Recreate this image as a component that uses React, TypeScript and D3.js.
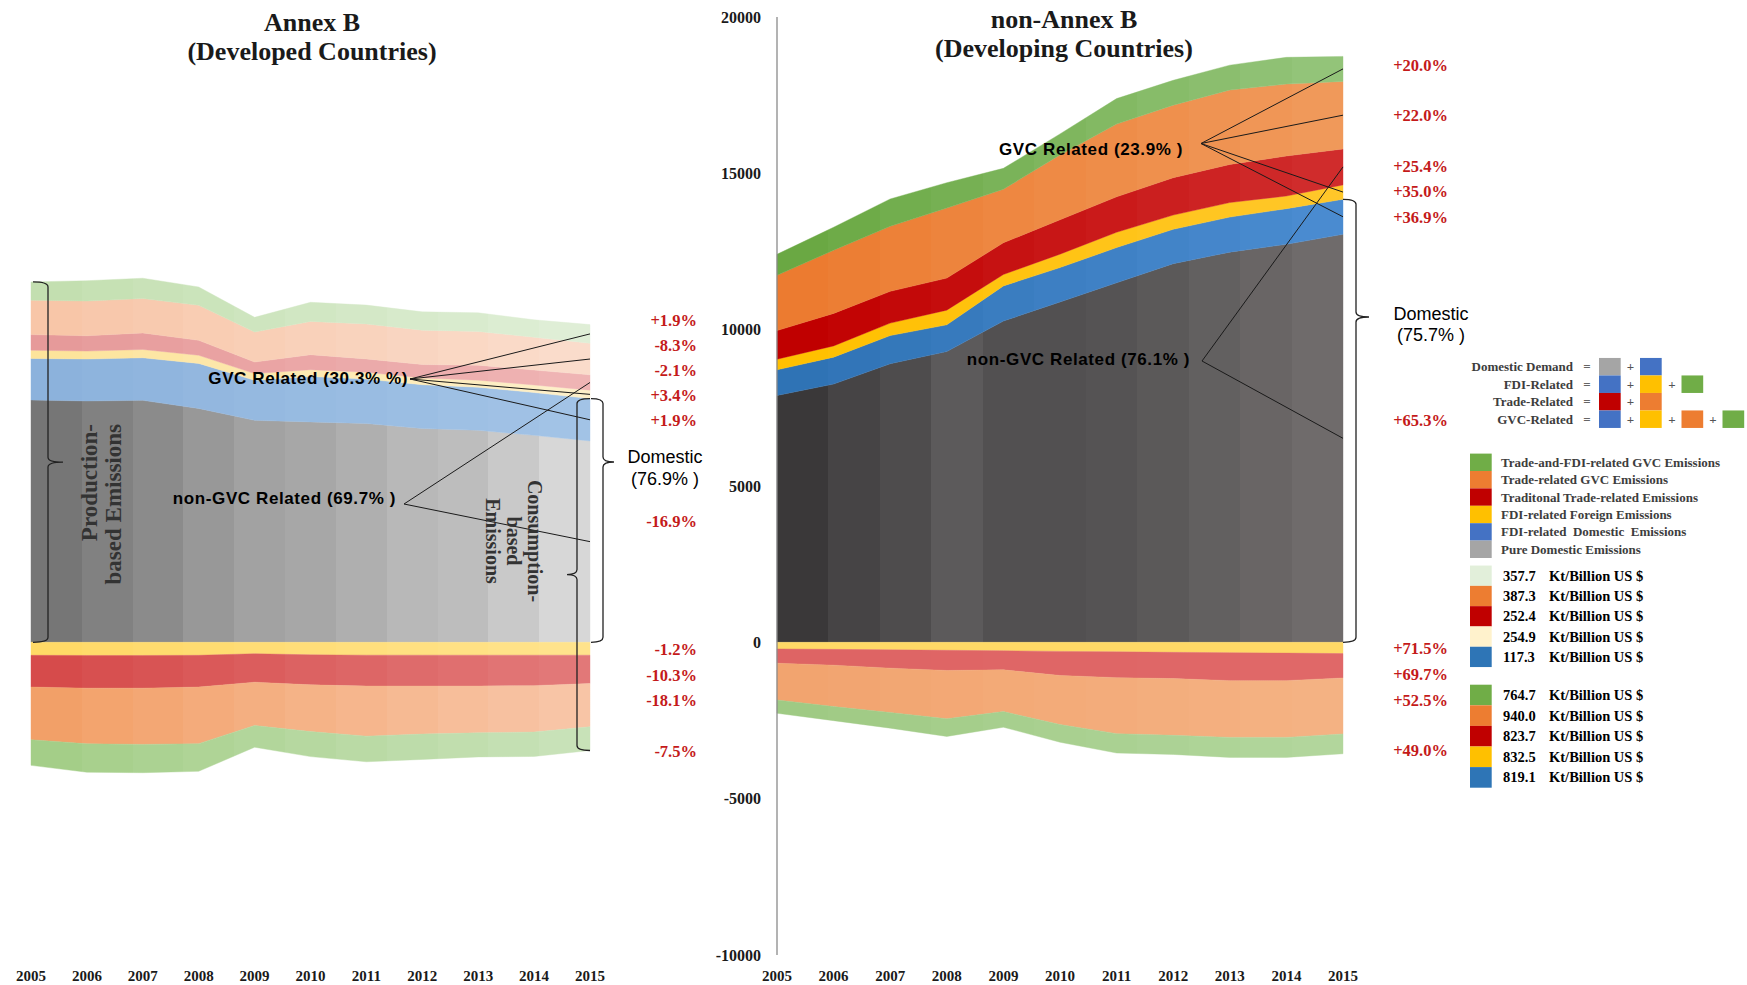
import * as d3 from 'd3'

// ── Data (Kt CO2) ─────────────────────────────────────────────────────────────
const years = [2005, 2006, 2007, 2008, 2009, 2010, 2011, 2012, 2013, 2014, 2015]

const layerKeys = ['pure', 'fdiDom', 'fdiFor', 'trade', 'tradeGvc', 'bothGvc']
const negKeys = ['fdiFor', 'trade', 'tradeGvc', 'bothGvc']

// Annex B, production side (above zero)
const annexPure = [7750, 7720, 7740, 7480, 7100, 7050, 7000, 6840, 6780, 6620, 6440]
const annexFdiDom = [1330, 1340, 1360, 1440, 1280, 1450, 1420, 1400, 1380, 1370, 1355]
const annexFdiFor = [262, 255, 265, 260, 215, 220, 215, 215, 225, 240, 271]
const annexTrade = [500, 490, 530, 480, 370, 480, 430, 430, 480, 480, 490]
const annexTradeGvc = [1100, 1110, 1100, 1120, 960, 1065, 1120, 1100, 1080, 1050, 1010]
const annexBothGvc = [585, 650, 650, 585, 470, 610, 600, 585, 595, 555, 596]
// Annex B, below zero
const annexNegFdiFor = [415, 420, 420, 415, 365, 400, 410, 410, 410, 410, 410]
const annexNegTrade = [1015, 1045, 1045, 1015, 910, 960, 990, 990, 990, 975, 910]
const annexNegTradeGvc = [1685, 1780, 1800, 1810, 1385, 1495, 1600, 1535, 1495, 1485, 1380]
const annexNegBothGvc = [820, 910, 905, 885, 695, 800, 820, 810, 770, 780, 760]

// non-Annex B, production side (above zero)
const nonPure = [7895, 8260, 8910, 9300, 10275, 10885, 11500, 12110, 12480, 12730, 13050]
const nonFdiDom = [820, 860, 900, 855, 1125, 1100, 1125, 1100, 1120, 1140, 1120]
const nonFdiFor = [340, 360, 400, 470, 365, 430, 490, 455, 465, 405, 460]
const nonTrade = [915, 1040, 1015, 1025, 1015, 1100, 1135, 1195, 1220, 1280, 1150]
const nonTradeGvc = [1770, 2020, 2080, 2240, 1710, 2075, 2325, 2320, 2380, 2300, 2160]
const nonBothGvc = [670, 735, 875, 810, 670, 670, 815, 795, 795, 855, 800]
// non-Annex B, below zero
const nonNegFdiFor = [210, 225, 240, 255, 270, 290, 305, 320, 330, 345, 360]
const nonNegTrade = [458, 505, 585, 645, 610, 770, 825, 840, 895, 880, 780]
const nonNegTradeGvc = [1175, 1325, 1420, 1545, 1335, 1570, 1790, 1815, 1815, 1815, 1790]
const nonNegBothGvc = [425, 450, 500, 565, 500, 565, 620, 610, 640, 640, 633]

const annexPct = ['+1.9%', '-8.3%', '-2.1%', '+3.4%', '+1.9%', '-16.9%', '-1.2%', '-10.3%', '-18.1%', '-7.5%']
const nonPct = ['+20.0%', '+22.0%', '+25.4%', '+35.0%', '+36.9%', '+65.3%', '+71.5%', '+69.7%', '+52.5%', '+49.0%']

const legendLabels = [
  'Trade-and-FDI-related GVC Emissions',
  'Trade-related GVC Emissions',
  'Traditonal Trade-related Emissions',
  'FDI-related Foreign Emissions',
  'FDI-related  Domestic  Emissions',
  'Pure Domestic Emissions',
]
const legendKeys = ['bothGvc', 'tradeGvc', 'trade', 'fdiFor', 'fdiDom', 'pure']

const formulaLabels = ['Domestic Demand', 'FDI-Related', 'Trade-Related', 'GVC-Related']
const formulaParts = [
  ['pure', 'fdiDom'],
  ['fdiDom', 'fdiFor', 'bothGvc'],
  ['trade', 'tradeGvc'],
  ['fdiDom', 'fdiFor', 'tradeGvc', 'bothGvc'],
]

const intensityAnnex = [357.7, 387.3, 252.4, 254.9, 117.3]
const intensityNon = [764.7, 940.0, 823.7, 832.5, 819.1]

// ── Styles ────────────────────────────────────────────────────────────────────
const W = 1747
const H = 985
const SERIF = "'Liberation Serif', 'Times New Roman', serif"
const SANS = "'Liberation Sans', Arial, sans-serif"
const PCT_RED = '#c41a1a'
const INK = '#1a1a1a'

const KEY_COLOR: Record<string, string> = {
  pure: '#a5a5a5', fdiDom: '#4472c4', fdiFor: '#ffc000',
  trade: '#c00000', tradeGvc: '#ed7d31', bothGvc: '#70ad47',
}
const annexIntensityColors = ['#e2efda', '#ed7d31', '#c00000', '#fff2cc', '#2e75b6']
const nonIntensityColors = ['#70ad47', '#ed7d31', '#c00000', '#ffc000', '#2e75b6']

// 11 vertical shade strips per layer (start → end colour, or an explicit list)
const annexPosShades: Record<string, string[]> = {
  pure: ['#767676', '#818181', '#8b8b8b', '#989898', '#a2a2a2', '#a7a7a7', '#afafaf', '#b8b8b8', '#bdbdbd', '#c9c9c9', '#d7d7d7'],
  fdiDom: ['#8cb2dc', '#a2c3e6'],
  fdiFor: ['#fde49b', '#fdefc8'],
  trade: ['#e69a9a', '#efb4b4'],
  tradeGvc: ['#f8c6a8', '#fadccb'],
  bothGvc: ['#c3dfb0', '#dfeed6'],
}
const annexNegShades: Record<string, string[]> = {
  fdiFor: ['#ffd966', '#ffe38c'],
  trade: ['#d64b4b', '#e27878'],
  tradeGvc: ['#f2a068', '#f8c5a6'],
  bothGvc: ['#a4ce88', '#c8e2b8'],
}
const nonPosShades: Record<string, string[]> = {
  pure: ['#3a3839', '#464445', '#4e4c4d', '#5c5a5b', '#525051', '#525051', '#555354', '#5b5959', '#626060', '#696565', '#6f6b6b'],
  fdiDom: ['#2f73b5', '#4a8bd0'],
  fdiFor: ['#ffc000', '#ffc729'],
  trade: ['#c00000', '#d02c2c'],
  tradeGvc: ['#ec7b30', '#f0995a'],
  bothGvc: ['#6aa843', '#93c479'],
}
const nonNegShades: Record<string, string[]> = {
  fdiFor: ['#ffd966', '#ffd966'],
  trade: ['#de6464', '#e06868'],
  tradeGvc: ['#f2a46f', '#f4b283'],
  bothGvc: ['#9fca84', '#b2d69c'],
}

const N_STRIPS = 11

function strips(c: string[]) {
  if (c.length === N_STRIPS) return c
  const interp = d3.interpolateRgb(c[0], c[1])
  return d3.range(N_STRIPS).map(i => interp(i / (N_STRIPS - 1)))
}

// ── Scales ────────────────────────────────────────────────────────────────────
const y = d3.scaleLinear([-10000, 20000], [955, 17])
const annexX = d3.scaleLinear([2005, 2015], [31, 590])
const nonX = d3.scaleLinear([2005, 2015], [777, 1343])

type Series = d3.Series<Record<string, number>, string>

function buildStack(keys: string[], cols: number[][]) {
  const rows = years.map((yr, i) => {
    const r: Record<string, number> = { year: yr }
    keys.forEach((k, j) => { r[k] = cols[j][i] })
    return r
  })
  return d3.stack<Record<string, number>>().keys(keys)(rows)
}

function brace(x: number, y0: number, y1: number, ym: number, hook: number, tick: number, r = 5) {
  return `M${x + hook},${y0} Q${x},${y0} ${x},${y0 + r} L${x},${ym - r} Q${x},${ym} ${x + tick},${ym} ` +
    `Q${x},${ym} ${x},${ym + r} L${x},${y1 - r} Q${x},${y1} ${x + hook},${y1}`
}

function PanelAreas({ id, x, pos, neg, posShades, negShades }: {
  id: string
  x: d3.ScaleLinear<number, number>
  pos: Series[]
  neg: Series[]
  posShades: Record<string, string[]>
  negShades: Record<string, string[]>
}) {
  const [x0, x1] = x.range()
  const posArea = d3.area<[number, number]>()
    .x((_, i) => x(years[i])).y0(d => y(d[0])).y1(d => y(d[1]))
  const negArea = d3.area<[number, number]>()
    .x((_, i) => x(years[i])).y0(d => y(-d[0])).y1(d => y(-d[1]))

  const grad = (gid: string, cols: string[]) => (
    <linearGradient key={gid} id={gid} gradientUnits="userSpaceOnUse" x1={x0} x2={x1} y1={0} y2={0}>
      {cols.flatMap((c, i) => [
        <stop key={`a${i}`} offset={i / N_STRIPS} stopColor={c} />,
        <stop key={`b${i}`} offset={(i + 1) / N_STRIPS} stopColor={c} />,
      ])}
    </linearGradient>
  )

  return (
    <g>
      <defs>
        {pos.map(s => grad(`${id}-p-${s.key}`, strips(posShades[s.key])))}
        {neg.map(s => grad(`${id}-n-${s.key}`, strips(negShades[s.key])))}
      </defs>
      {pos.map(s => (
        <path key={`p${s.key}`} d={posArea(s as unknown as [number, number][]) ?? ''}
          fill={`url(#${id}-p-${s.key})`} stroke={`url(#${id}-p-${s.key})`} strokeWidth={0.4} />
      ))}
      {neg.map(s => (
        <path key={`n${s.key}`} d={negArea(s as unknown as [number, number][]) ?? ''}
          fill={`url(#${id}-n-${s.key})`} stroke={`url(#${id}-n-${s.key})`} strokeWidth={0.4} />
      ))}
    </g>
  )
}

function midAt(stack: Series[], key: string, i: number, sign = 1) {
  const s = stack.find(d => d.key === key)!
  return y(sign * (s[i][0] + s[i][1]) / 2)
}

export default function App() {
  const annexPos = buildStack(layerKeys, [annexPure, annexFdiDom, annexFdiFor, annexTrade, annexTradeGvc, annexBothGvc])
  const annexNeg = buildStack(negKeys, [annexNegFdiFor, annexNegTrade, annexNegTradeGvc, annexNegBothGvc])
  const nonPos = buildStack(layerKeys, [nonPure, nonFdiDom, nonFdiFor, nonTrade, nonTradeGvc, nonBothGvc])
  const nonNeg = buildStack(negKeys, [nonNegFdiFor, nonNegTrade, nonNegTradeGvc, nonNegBothGvc])

  const last = years.length - 1
  const aRight = annexX(2015)
  const nRight = nonX(2015)

  // bracket extents from the stacks
  const annexTop0 = y(annexPos[annexPos.length - 1][0][1])
  const annexDomTop = y(annexPos[1][last][1])
  const annexBottom = y(-annexNeg[annexNeg.length - 1][last][1])
  const nonDomTop = y(nonPos[1][last][1])
  const zeroY = y(0)

  const gvcKeys = ['fdiDom', 'fdiFor', 'tradeGvc', 'bothGvc']
  const nonGvcKeys = ['pure', 'trade']

  const annexPctY = [320, 345, 370, 395, 420, 521, 649, 675, 700, 751]
  const nonPctY = [65, 115, 166, 191.5, 217, 420, 648.5, 674, 700, 750]

  const pctText = (labels: string[], ys: number[], xr: number) => labels.map((t, i) => (
    <text key={`${xr}-${i}`} x={xr} y={ys[i]} dy="0.35em" textAnchor="end" fill={PCT_RED}
      fontFamily={SERIF} fontWeight="bold" fontSize={16.5}>{t}</text>
  ))

  const leaders = (from: [number, number], stack: Series[], keys: string[], xr: number) => keys.map(k => (
    <line key={`${from[0]}-${k}`} x1={from[0]} y1={from[1]} x2={xr} y2={midAt(stack, k, last)}
      stroke={INK} strokeWidth={1} />
  ))

  const formulaY = [366.7, 384.2, 401.7, 419.2]
  const formulaX = [1599, 1640, 1681.5, 1722.5]
  const legendY = [462.3, 479.7, 497.1, 514.5, 531.9, 549.3]
  const intAnnexY = [575.7, 596, 616.3, 636.6, 656.9]
  const intNonY = [695, 715.6, 736.2, 756.8, 777.4]
  const fmt = d3.format('.1f')

  return (
    <svg width={W} height={H} viewBox={`0 0 ${W} ${H}`}
      style={{ position: 'absolute', left: 0, top: 0, display: 'block', background: '#fff' }}>
      <rect width={W} height={H} fill="#fff" />

      {/* ── Areas ─────────────────────────────────────────────── */}
      <PanelAreas id="annex" x={annexX} pos={annexPos} neg={annexNeg}
        posShades={annexPosShades} negShades={annexNegShades} />
      <PanelAreas id="non" x={nonX} pos={nonPos} neg={nonNeg}
        posShades={nonPosShades} negShades={nonNegShades} />

      {/* ── Titles ────────────────────────────────────────────── */}
      <g fontFamily={SERIF} fontWeight="bold" fontSize={26} fill={INK} textAnchor="middle">
        <text x={312} y={31}>Annex B</text>
        <text x={312} y={60}>(Developed Countries)</text>
        <text x={1064} y={28}>non-Annex B</text>
        <text x={1064} y={57}>(Developing Countries)</text>
      </g>

      {/* ── Y axis (non-Annex B) ──────────────────────────────── */}
      <line x1={nonX(2005)} x2={nonX(2005)} y1={y(20000)} y2={y(-10000)} stroke="#8a8a8a" strokeWidth={1.3} />
      {y.ticks(6).map(t => (
        <text key={t} x={761} y={y(t)} dy="0.35em" textAnchor="end" fontFamily={SERIF}
          fontWeight="bold" fontSize={16} fill={INK}>{t}</text>
      ))}

      {/* ── Year labels ───────────────────────────────────────── */}
      {[annexX, nonX].map((sx, j) => years.map(yr => (
        <text key={`${j}-${yr}`} x={sx(yr)} y={976} dy="0.35em" textAnchor="middle" fontFamily={SERIF}
          fontWeight="bold" fontSize={15} fill={INK}>{yr}</text>
      )))}

      {/* ── Leader lines ──────────────────────────────────────── */}
      {leaders([410, 379], annexPos, gvcKeys, aRight)}
      {leaders([404, 504], annexPos, nonGvcKeys, aRight)}
      {leaders([1201, 143.5], nonPos, gvcKeys, nRight)}
      {leaders([1202, 361], nonPos, nonGvcKeys, nRight)}

      <g fontFamily={SANS} fontWeight="bold" fontSize={17} fill="#000" textAnchor="end" letterSpacing={0.6}>
        <text x={408} y={378} dy="0.35em">GVC Related (30.3% %)</text>
        <text x={396} y={498} dy="0.35em">non-GVC Related (69.7% )</text>
        <text x={1183} y={149} dy="0.35em">GVC Related (23.9% )</text>
        <text x={1190} y={359} dy="0.35em">non-GVC Related (76.1% )</text>
      </g>

      {/* ── Brackets ──────────────────────────────────────────── */}
      <g fill="none" stroke="#222" strokeWidth={1.3}>
        <path d={brace(48, annexTop0, zeroY, (annexTop0 + zeroY) / 2, -15, 15)} />
        <path d={brace(577, annexDomTop, annexBottom, (annexDomTop + annexBottom) / 2, 13, -10)} />
        <path d={brace(603, annexDomTop, zeroY, 462, -12, 11)} />
        <path d={brace(1356, nonDomTop, zeroY, 317, -13, 13)} />
      </g>

      {/* vertical bracket captions */}
      <g fontFamily={SERIF} fontWeight="bold" fontSize={23} fill="#333" textAnchor="end"
        transform="translate(0,424) rotate(-90)">
        <text x={0} y={97}>Production-</text>
        <text x={0} y={121}>based Emissions</text>
      </g>
      <g fontFamily={SERIF} fontWeight="bold" fontSize={20} fill="#333" textAnchor="middle"
        transform="translate(0,541) rotate(90)">
        <text x={0} y={-528}>Consumption-</text>
        <text x={0} y={-507}>based</text>
        <text x={0} y={-486}>Emissions</text>
      </g>

      <g fontFamily={SANS} fontSize={18} fill="#000" textAnchor="middle">
        <text x={665} y={457} dy="0.35em">Domestic</text>
        <text x={665} y={479} dy="0.35em">(76.9% )</text>
        <text x={1431} y={314} dy="0.35em">Domestic</text>
        <text x={1431} y={335} dy="0.35em">(75.7% )</text>
      </g>

      {/* ── Growth percentages ────────────────────────────────── */}
      {pctText(annexPct, annexPctY, 697)}
      {pctText(nonPct, nonPctY, 1448)}

      {/* ── Formula legend ────────────────────────────────────── */}
      <g fontFamily={SERIF} fontWeight="bold" fontSize={13} fill="#3d3d3d">
        {formulaLabels.map((lab, r) => (
          <g key={lab}>
            <text x={1573} y={formulaY[r]} dy="0.35em" textAnchor="end">{lab}</text>
            <text x={1587} y={formulaY[r]} dy="0.35em" textAnchor="middle" fill="#666">=</text>
            {formulaParts[r].map((k, c) => (
              <g key={c}>
                <rect x={formulaX[c]} y={formulaY[r] - 8.75} width={21.7} height={17.5} fill={KEY_COLOR[k]} />
                {c > 0 && (
                  <text x={formulaX[c] - 9.5} y={formulaY[r]} dy="0.35em" textAnchor="middle" fill="#555">+</text>
                )}
              </g>
            ))}
          </g>
        ))}
      </g>

      {/* ── Component legend ──────────────────────────────────── */}
      <g fontFamily={SERIF} fontWeight="bold" fontSize={13} fill="#3d3d3d">
        {legendLabels.map((lab, i) => (
          <g key={lab}>
            <rect x={1470} y={legendY[i] - 8.7} width={21.7} height={17.4} fill={KEY_COLOR[legendKeys[i]]} />
            <text x={1501} y={legendY[i]} dy="0.35em" style={{ whiteSpace: 'pre' }}>{lab}</text>
          </g>
        ))}
      </g>

      {/* ── Intensity legends ─────────────────────────────────── */}
      <g fontFamily={SERIF} fontWeight="bold" fontSize={14.5} fill="#000">
        {intensityAnnex.map((v, i) => (
          <g key={`a${i}`}>
            <rect x={1470} y={intAnnexY[i] - 10.15} width={21.7} height={20.3} fill={annexIntensityColors[i]} />
            <text x={1503} y={intAnnexY[i]} dy="0.35em">{fmt(v)}</text>
            <text x={1549} y={intAnnexY[i]} dy="0.35em">Kt/Billion US $</text>
          </g>
        ))}
        {intensityNon.map((v, i) => (
          <g key={`n${i}`}>
            <rect x={1470} y={intNonY[i] - 10.3} width={21.7} height={20.6} fill={nonIntensityColors[i]} />
            <text x={1503} y={intNonY[i]} dy="0.35em">{fmt(v)}</text>
            <text x={1549} y={intNonY[i]} dy="0.35em">Kt/Billion US $</text>
          </g>
        ))}
      </g>
    </svg>
  )
}
